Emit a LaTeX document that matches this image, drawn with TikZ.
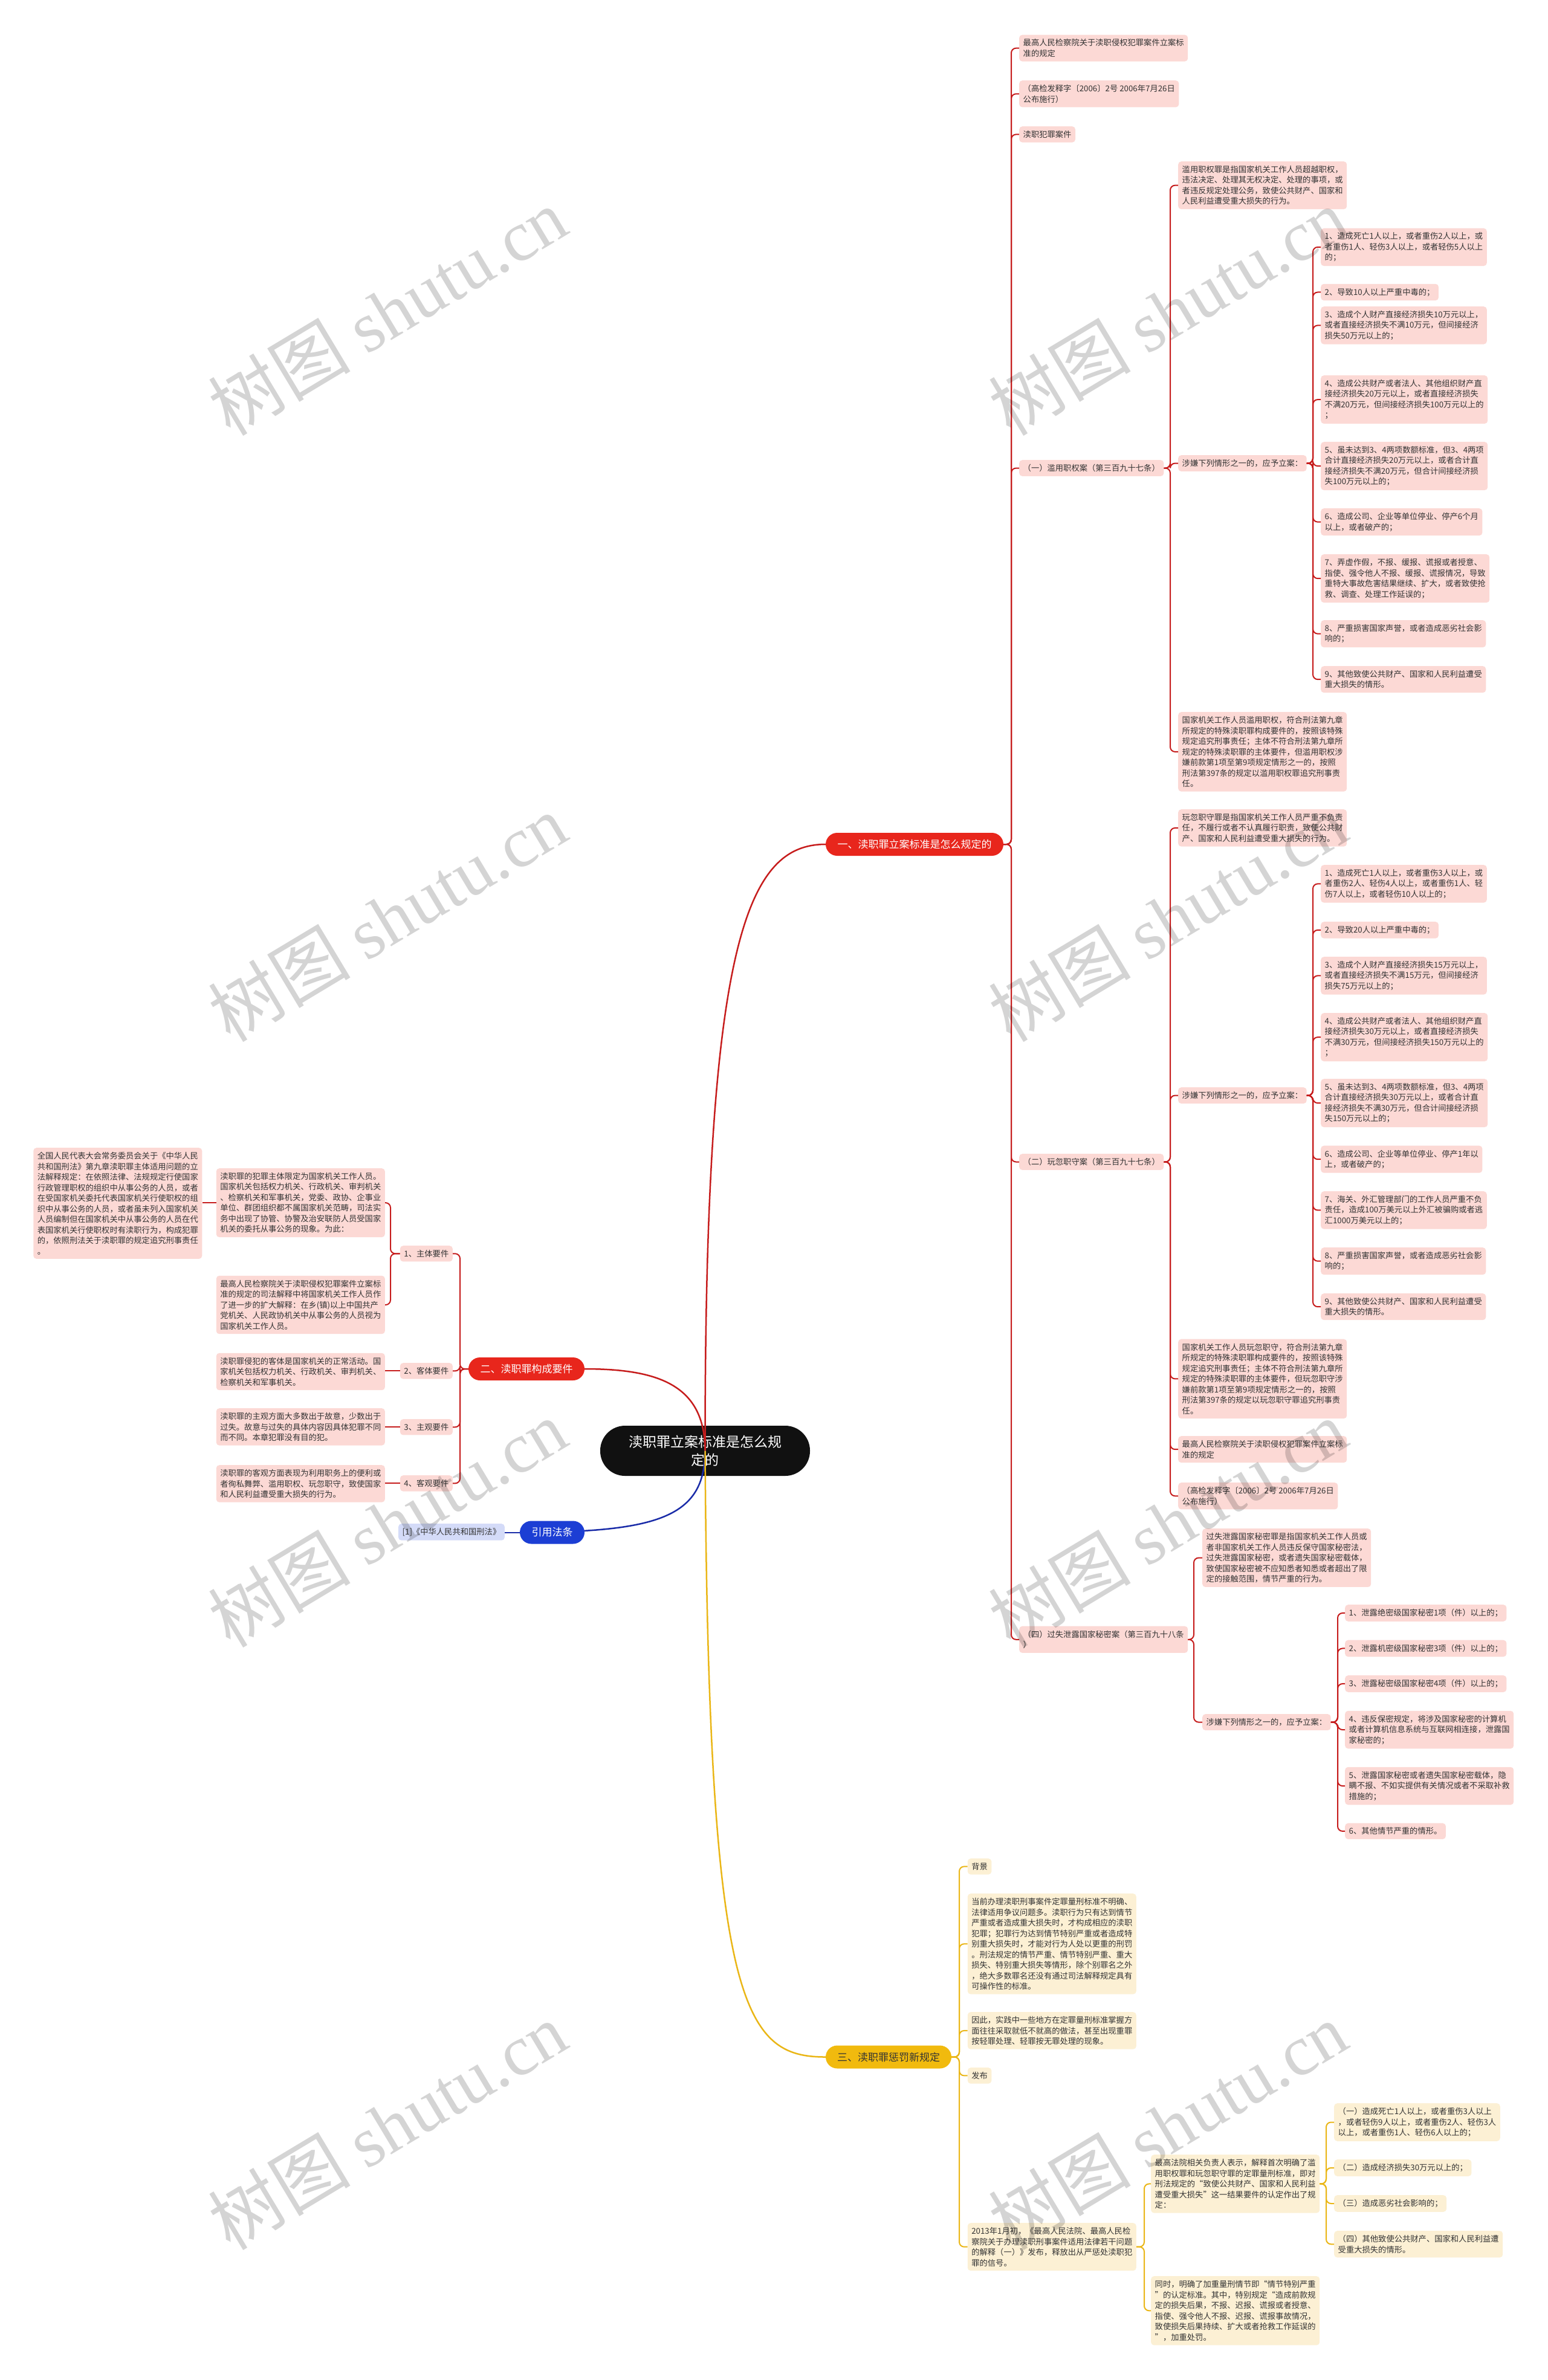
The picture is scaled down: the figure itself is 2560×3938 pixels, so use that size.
\documentclass[tikz,border=0pt]{standalone}
\usepackage{fontspec}
\setmainfont{Noto Sans CJK SC}
\newfontfamily\wmlatin{Liberation Serif}
\usetikzlibrary{calc}
\definecolor{pinkfill}{RGB}{252,217,213}
\definecolor{yelfill}{RGB}{252,240,212}
\definecolor{bluefill}{RGB}{212,219,248}
\definecolor{redmain}{RGB}{232,38,28}
\definecolor{redline}{RGB}{198,28,28}
\definecolor{yelmain}{RGB}{241,186,14}
\definecolor{yelline}{RGB}{234,182,22}
\definecolor{bluemain}{RGB}{28,62,212}
\definecolor{blueline}{RGB}{26,44,168}
\definecolor{txt}{RGB}{51,51,51}
\definecolor{rootfill}{RGB}{17,17,17}
\newcommand\leaffont{\fontsize{13.3pt}{17.5pt}\selectfont}
\newcommand\secfont{\fontsize{17pt}{20pt}\selectfont}
\newcommand\rootfont{\fontsize{23pt}{30pt}\selectfont}
\newcommand\wmfont{\fontsize{118pt}{118pt}\selectfont}
\newcommand\lk[4]{\draw[#1] let \p1=(#2.east), \p2=(#3.west) in (\p1) -- (#4pt,\y1) |- (\p2);}
\newcommand\lkl[4]{\draw[#1] let \p1=(#2.west), \p2=(#3.east) in (\p1) -- (#4pt,\y1) |- (\p2);}
\tikzset{
 leafbox/.style={rounded corners=5pt, inner xsep=6.5pt, inner ysep=7pt, align=left, font=\leaffont, text=txt},
 nr/.style={leafbox, fill=pinkfill, anchor=north west},
 nl/.style={leafbox, fill=pinkfill, anchor=north east},
 yr/.style={leafbox, fill=yelfill, anchor=north west},
 bleaf/.style={leafbox, fill=bluefill, anchor=north east},
 pill/.style={rounded corners=19pt, minimum height=38pt, font=\secfont, inner xsep=0pt, inner ysep=0pt},
 rootnode/.style={fill=rootfill, text=white, rounded corners=41pt, minimum width=347pt, minimum height=83pt, align=center, font=\rootfont},
 lr/.style={draw=redline, line width=2pt, rounded corners=8pt},
 ly/.style={draw=yelline, line width=2pt, rounded corners=8pt},
 lb/.style={draw=blueline, line width=2pt},
 mr/.style={draw=redline, line width=2.5pt},
 my/.style={draw=yelline, line width=2.5pt},
 mb/.style={draw=blueline, line width=2.5pt},
 wm/.style={font=\wmfont, text=black, text opacity=0.17, inner sep=0pt, rotate=31}
}
\begin{document}
\begin{tikzpicture}[x=1pt,y=-1pt]
\useasboundingbox (0,0) rectangle (2560,3938);
\fill[white] (0,0) rectangle (2560,3938);

% root
\node[rootnode] (root) at (1166.5,2400.5) {渎职罪立案标准是怎么规\\定的};

% main curves
\draw[mr] (root.center) .. controls (1166,1560) and (1235,1397) .. (1366,1397) coordinate (s1in);
\draw[mr] (root.center) .. controls (1166,2292) and (1090,2265) .. (967,2265) coordinate (s2in);
\draw[mb] (root.center) .. controls (1166,2510) and (1090,2535.5) .. (860,2535.5) coordinate (lawin);
\draw[my] (root.center) .. controls (1172,3320) and (1230,3403.5) .. (1366,3403.5) coordinate (s3in);

% section pills
\node[pill, fill=redmain, text=white, minimum width=294pt] (s1) at (1513,1397) {一、渎职罪立案标准是怎么规定的};
\node[pill, fill=redmain, text=white, minimum width=192pt] (s2) at (871,2265) {二、渎职罪构成要件};
\node[pill, fill=bluemain, text=white, minimum width=107pt] (law) at (913.5,2535.5) {引用法条};
\node[pill, fill=yelmain, text=txt, minimum width=208pt] (s3) at (1470,3403.5) {三、渎职罪惩罚新规定};

% ===== section 1 =====
\node[nr] (A1) at (1686,57.5) {最高人民检察院关于渎职侵权犯罪案件立案标\\准的规定};
\node[nr] (A2) at (1686,133) {（高检发释字〔2006〕2号 2006年7月26日\\公布施行）};
\node[nr] (A3) at (1686,209) {渎职犯罪案件};
\node[nr] (B0) at (1686,761) {（一）滥用职权案（第三百九十七条）};
\node[nr] (B1) at (1949,267) {滥用职权罪是指国家机关工作人员超越职权，\\违法决定、处理其无权决定、处理的事项，或\\者违反规定处理公务，致使公共财产、国家和\\人民利益遭受重大损失的行为。};
\node[nr] (B2) at (1949,753) {涉嫌下列情形之一的，应予立案：};
\node[nr] (B3) at (1949,1178) {国家机关工作人员滥用职权，符合刑法第九章\\所规定的特殊渎职罪构成要件的，按照该特殊\\规定追究刑事责任；主体不符合刑法第九章所\\规定的特殊渎职罪的主体要件，但滥用职权涉\\嫌前款第1项至第9项规定情形之一的，按照\\刑法第397条的规定以滥用职权罪追究刑事责\\任。};
\node[nr] (C1) at (2185,377.5) {1、造成死亡1人以上，或者重伤2人以上，或\\者重伤1人、轻伤3人以上，或者轻伤5人以上\\的；};
\node[nr] (C2) at (2185,469.6) {2、导致10人以上严重中毒的；};
\node[nr] (C3) at (2185,507) {3、造成个人财产直接经济损失10万元以上，\\或者直接经济损失不满10万元，但间接经济\\损失50万元以上的；};
\node[nr] (C4) at (2185,621) {4、造成公共财产或者法人、其他组织财产直\\接经济损失20万元以上，或者直接经济损失\\不满20万元，但间接经济损失100万元以上的\\；};
\node[nr] (C5) at (2185,731) {5、虽未达到3、4两项数额标准，但3、4两项\\合计直接经济损失20万元以上，或者合计直\\接经济损失不满20万元，但合计间接经济损\\失100万元以上的；};
\node[nr] (C6) at (2185,841) {6、造成公司、企业等单位停业、停产6个月\\以上，或者破产的；};
\node[nr] (C7) at (2185,917) {7、弄虚作假，不报、缓报、谎报或者授意、\\指使、强令他人不报、缓报、谎报情况，导致\\重特大事故危害结果继续、扩大，或者致使抢\\救、调查、处理工作延误的；};
\node[nr] (C8) at (2185,1026) {8、严重损害国家声誉，或者造成恶劣社会影\\响的；};
\node[nr] (C9) at (2185,1102) {9、其他致使公共财产、国家和人民利益遭受\\重大损失的情形。};

\node[nr] (D0) at (1686,1909) {（二）玩忽职守案（第三百九十七条）};
\node[nr] (D1) at (1949,1339) {玩忽职守罪是指国家机关工作人员严重不负责\\任，不履行或者不认真履行职责，致使公共财\\产、国家和人民利益遭受重大损失的行为。};
\node[nr] (D2) at (1949,1799) {涉嫌下列情形之一的，应予立案：};
\node[nr] (D3) at (1949,2215.5) {国家机关工作人员玩忽职守，符合刑法第九章\\所规定的特殊渎职罪构成要件的，按照该特殊\\规定追究刑事责任；主体不符合刑法第九章所\\规定的特殊渎职罪的主体要件，但玩忽职守涉\\嫌前款第1项至第9项规定情形之一的，按照\\刑法第397条的规定以玩忽职守罪追究刑事责\\任。};
\node[nr] (D4) at (1949,2376) {最高人民检察院关于渎职侵权犯罪案件立案标\\准的规定};
\node[nr] (D5) at (1949,2453) {（高检发释字〔2006〕2号 2006年7月26日\\公布施行）};
\node[nr] (E1) at (2185,1431) {1、造成死亡1人以上，或者重伤3人以上，或\\者重伤2人、轻伤4人以上，或者重伤1人、轻\\伤7人以上，或者轻伤10人以上的；};
\node[nr] (E2) at (2185,1525) {2、导致20人以上严重中毒的；};
\node[nr] (E3) at (2185,1583) {3、造成个人财产直接经济损失15万元以上，\\或者直接经济损失不满15万元，但间接经济\\损失75万元以上的；};
\node[nr] (E4) at (2185,1676) {4、造成公共财产或者法人、其他组织财产直\\接经济损失30万元以上，或者直接经济损失\\不满30万元，但间接经济损失150万元以上的\\；};
\node[nr] (E5) at (2185,1785) {5、虽未达到3、4两项数额标准，但3、4两项\\合计直接经济损失30万元以上，或者合计直\\接经济损失不满30万元，但合计间接经济损\\失150万元以上的；};
\node[nr] (E6) at (2185,1895.5) {6、造成公司、企业等单位停业、停产1年以\\上，或者破产的；};
\node[nr] (E7) at (2185,1971) {7、海关、外汇管理部门的工作人员严重不负\\责任，造成100万美元以上外汇被骗购或者逃\\汇1000万美元以上的；};
\node[nr] (E8) at (2185,2064) {8、严重损害国家声誉，或者造成恶劣社会影\\响的；};
\node[nr] (E9) at (2185,2140) {9、其他致使公共财产、国家和人民利益遭受\\重大损失的情形。};

\node[nr] (F0) at (1686,2690.5) {（四）过失泄露国家秘密案（第三百九十八条\\）};
\node[nr] (F1) at (1989,2529) {过失泄露国家秘密罪是指国家机关工作人员或\\者非国家机关工作人员违反保守国家秘密法，\\过失泄露国家秘密，或者遗失国家秘密载体，\\致使国家秘密被不应知悉者知悉或者超出了限\\定的接触范围，情节严重的行为。};
\node[nr] (F2) at (1989,2836) {涉嫌下列情形之一的，应予立案：};
\node[nr] (G1) at (2225,2655) {1、泄露绝密级国家秘密1项（件）以上的；};
\node[nr] (G2) at (2225,2713.5) {2、泄露机密级国家秘密3项（件）以上的；};
\node[nr] (G3) at (2225,2772) {3、泄露秘密级国家秘密4项（件）以上的；};
\node[nr] (G4) at (2225,2830.6) {4、违反保密规定，将涉及国家秘密的计算机\\或者计算机信息系统与互联网相连接，泄露国\\家秘密的；};
\node[nr] (G5) at (2225,2923.6) {5、泄露国家秘密或者遗失国家秘密载体，隐\\瞒不报、不如实提供有关情况或者不采取补救\\措施的；};
\node[nr] (G6) at (2225,3016.5) {6、其他情节严重的情形。};

% section 1 links
\foreach \c in {A1,A2,A3,B0,D0,F0} {\lk{lr}{s1}{\c}{1673}}
\foreach \c in {B1,B2,B3} {\lk{lr}{B0}{\c}{1936}}
\foreach \c in {C1,C2,C3,C4,C5,C6,C7,C8,C9} {\lk{lr}{B2}{\c}{2172}}
\foreach \c in {D1,D2,D3,D4,D5} {\lk{lr}{D0}{\c}{1936}}
\foreach \c in {E1,E2,E3,E4,E5,E6,E7,E8,E9} {\lk{lr}{D2}{\c}{2172}}
\foreach \c in {F1,F2} {\lk{lr}{F0}{\c}{1975}}
\foreach \c in {G1,G2,G3,G4,G5,G6} {\lk{lr}{F2}{\c}{2213}}

% ===== section 2 =====
\node[nl] (H1) at (749,2061) {1、主体要件};
\node[nl] (H2) at (749,2255) {2、客体要件};
\node[nl] (H3) at (749,2348) {3、主观要件};
\node[nl] (H4) at (749,2441) {4、客观要件};
\node[nl] (I1) at (637,1933) {渎职罪的犯罪主体限定为国家机关工作人员。\\国家机关包括权力机关、行政机关、审判机关\\、检察机关和军事机关，党委、政协、企事业\\单位、群团组织都不属国家机关范畴，司法实\\务中出现了协管、协警及治安联防人员受国家\\机关的委托从事公务的现象。为此：};
\node[nl] (I2) at (637,2110.6) {最高人民检察院关于渎职侵权犯罪案件立案标\\准的规定的司法解释中将国家机关工作人员作\\了进一步的扩大解释：在乡(镇)以上中国共产\\党机关、人民政协机关中从事公务的人员视为\\国家机关工作人员。};
\node[nl] (I3) at (637,2238.6) {渎职罪侵犯的客体是国家机关的正常活动。国\\家机关包括权力机关、行政机关、审判机关、\\检察机关和军事机关。};
\node[nl] (I4) at (637,2330) {渎职罪的主观方面大多数出于故意，少数出于\\过失。故意与过失的具体内容因具体犯罪不同\\而不同。本章犯罪没有目的犯。};
\node[nl] (I5) at (637,2424) {渎职罪的客观方面表现为利用职务上的便利或\\者徇私舞弊、滥用职权、玩忽职守，致使国家\\和人民利益遭受重大损失的行为。};
\node[nl] (J1) at (334.5,1899) {全国人民代表大会常务委员会关于《中华人民\\共和国刑法》第九章渎职罪主体适用问题的立\\法解释规定：在依照法律、法规规定行使国家\\行政管理职权的组织中从事公务的人员，或者\\在受国家机关委托代表国家机关行使职权的组\\织中从事公务的人员，或者虽未列入国家机关\\人员编制但在国家机关中从事公务的人员在代\\表国家机关行使职权时有渎职行为，构成犯罪\\的，依照刑法关于渎职罪的规定追究刑事责任\\。};

\foreach \c in {H1,H2,H3,H4} {\lkl{lr}{s2}{\c}{761}}
\foreach \c in {I1,I2} {\lkl{lr}{H1}{\c}{646}}
\draw[lr] (H2.west) -- (H2.west -| I3.east);
\draw[lr] (H3.west) -- (H3.west -| I4.east);
\draw[lr] (H4.west) -- (H4.west -| I5.east);
\draw[lr] (I1.west) -- (I1.west -| J1.east);

% law
\node[bleaf] (K1) at (835,2521) {[1]《中华人民共和国刑法》};
\draw[lb] (law.west) -- (law.west -| K1.east);

% ===== section 3 =====
\node[yr] (L1) at (1600.6,3075) {背景};
\node[yr] (L2) at (1600.6,3133) {当前办理渎职刑事案件定罪量刑标准不明确、\\法律适用争议问题多。渎职行为只有达到情节\\严重或者造成重大损失时，才构成相应的渎职\\犯罪；犯罪行为达到情节特别严重或者造成特\\别重大损失时，才能对行为人处以更重的刑罚\\。刑法规定的情节严重、情节特别严重、重大\\损失、特别重大损失等情形，除个别罪名之外\\，绝大多数罪名还没有通过司法解释规定具有\\可操作性的标准。};
\node[yr] (L3) at (1600.6,3329) {因此，实践中一些地方在定罪量刑标准掌握方\\面往往采取就低不就高的做法，甚至出现重罪\\按轻罪处理、轻罪按无罪处理的现象。};
\node[yr] (L4) at (1600.6,3421) {发布};
\node[yr] (L5) at (1600.6,3678) {2013年1月初，《最高人民法院、最高人民检\\察院关于办理渎职刑事案件适用法律若干问题\\的解释（一）》发布，释放出从严惩处渎职犯\\罪的信号。};
\node[yr] (M1) at (1904,3565) {最高法院相关负责人表示，解释首次明确了滥\\用职权罪和玩忽职守罪的定罪量刑标准，即对\\刑法规定的“致使公共财产、国家和人民利益\\遭受重大损失”这一结果要件的认定作出了规\\定：};
\node[yr] (M2) at (1904,3766) {同时，明确了加重量刑情节即“情节特别严重\\”的认定标准。其中，特别规定“造成前款规\\定的损失后果，不报、迟报、谎报或者授意、\\指使、强令他人不报、迟报、谎报事故情况，\\致使损失后果持续、扩大或者抢救工作延误的\\”，加重处罚。};
\node[yr] (N1) at (2207,3480) {（一）造成死亡1人以上，或者重伤3人以上\\，或者轻伤9人以上，或者重伤2人、轻伤3人\\以上，或者重伤1人、轻伤6人以上的；};
\node[yr] (N2) at (2207,3573) {（二）造成经济损失30万元以上的；};
\node[yr] (N3) at (2207,3632) {（三）造成恶劣社会影响的；};
\node[yr] (N4) at (2207,3691) {（四）其他致使公共财产、国家和人民利益遭\\受重大损失的情形。};

\foreach \c in {L1,L2,L3,L4,L5} {\lk{ly}{s3}{\c}{1587}}
\foreach \c in {M1,M2} {\lk{ly}{L5}{\c}{1893}}
\foreach \c in {N1,N2,N3,N4} {\lk{ly}{M1}{\c}{2194}}

% watermarks
\foreach \wx in {641,1932} {
  \foreach \wy in {515,1518,2520,3517} {
    \node[wm] at (\wx,\wy) {树图 {\wmlatin shutu.cn}};
  }
}
\end{tikzpicture}
\end{document}
